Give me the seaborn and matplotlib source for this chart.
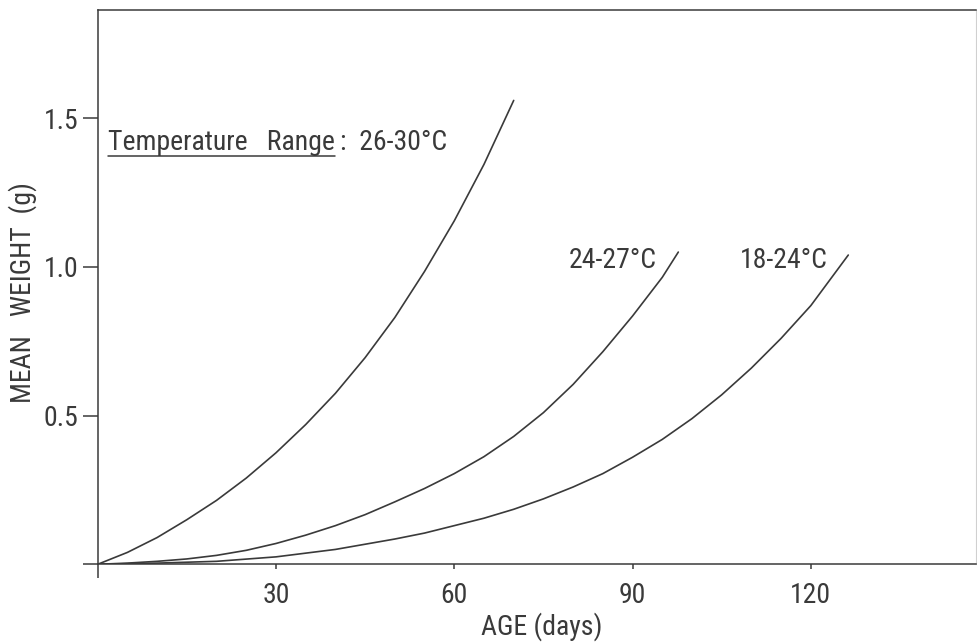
import numpy as np
import pandas as pd
import matplotlib
matplotlib.use("Agg")
import matplotlib.pyplot as plt
import seaborn as sns

# values (age in days, mean weight in g)
age_26_30 = [0, 5, 10, 15, 20, 25, 30, 35, 40, 45, 50, 55, 60, 65, 70]
wt_26_30 = [0, 0.04, 0.09, 0.15, 0.215, 0.29, 0.375, 0.47, 0.575, 0.695, 0.83, 0.985, 1.155, 1.345, 1.56]

age_24_27 = [0, 5, 10, 15, 20, 25, 30, 35, 40, 45, 50, 55, 60, 65, 70, 75, 80, 85, 90, 95, 97.7]
wt_24_27 = [0, 0.004, 0.01, 0.018, 0.03, 0.047, 0.07, 0.098, 0.13, 0.167, 0.21, 0.255, 0.305,
            0.362, 0.43, 0.51, 0.605, 0.715, 0.835, 0.965, 1.05]

age_18_24 = [0, 10, 20, 30, 40, 50, 55, 60, 65, 70, 75, 80, 85, 90, 95, 100, 105, 110, 115, 120, 126.3]
wt_18_24 = [0, 0.004, 0.01, 0.025, 0.05, 0.085, 0.105, 0.13, 0.155, 0.185, 0.22, 0.26, 0.305,
            0.36, 0.42, 0.49, 0.57, 0.66, 0.76, 0.87, 1.04]

ranges = ["26-30°C", "24-27°C", "18-24°C"]
x_ticks = [30, 60, 90, 120]
y_ticks = [0, 0.5, 1.0, 1.5]
y_ticklabels = ["", "0.5", "1.0", "1.5"]

df = pd.concat([
    pd.DataFrame({"age": age_26_30, "weight": wt_26_30, "range": ranges[0]}),
    pd.DataFrame({"age": age_24_27, "weight": wt_24_27, "range": ranges[1]}),
    pd.DataFrame({"age": age_18_24, "weight": wt_18_24, "range": ranges[2]}),
])

sns.set_style("white")
plt.rcParams["font.family"] = ["Roboto Condensed", "Roboto", "DejaVu Sans"]
ink = "#3a3a3a"
fs = 20

fig = plt.figure(figsize=(9.78, 6.43), dpi=100)
ax = fig.add_axes([0.0999, 0.1224, 0.8981, 0.862])

sns.lineplot(data=df, x="age", y="weight", hue="range", palette=[ink] * 3,
             linewidth=1.2, legend=False, ax=ax, sort=False)

ax.set_xlim(0, 147.8)
ax.set_ylim(0, 1.864)

ax.set_xticks(x_ticks)
ax.set_xticklabels([str(t) for t in x_ticks])
ax.set_xticks([0], minor=True)
ax.set_yticks(y_ticks)
ax.set_yticklabels(y_ticklabels)

ax.tick_params(axis="x", which="major", bottom=True, direction="out", length=3.6, width=1.1,
               color=ink, labelcolor=ink, labelsize=fs, pad=9)
ax.tick_params(axis="x", which="minor", bottom=True, direction="out", length=10, width=1.1, color=ink)
ax.tick_params(axis="y", left=True, direction="out", length=11, width=1.1, color=ink,
               labelcolor=ink, labelsize=fs, pad=3)

for side in ["left", "bottom", "top"]:
    ax.spines[side].set_color(ink)
    ax.spines[side].set_linewidth(1.1)
ax.spines["right"].set_color("#d0d0d0")
ax.spines["right"].set_linewidth(0.8)

ax.set_xlabel("AGE (days)", fontsize=fs, color=ink)
ax.set_ylabel("MEAN   WEIGHT  (g)", fontsize=fs, color=ink)
ax.xaxis.set_label_coords(0.505, -0.086)
ax.yaxis.set_label_coords(-0.069, 0.49)

# curve labels
ax.text(94.1, 0.997, ranges[1], ha="right", va="baseline", fontsize=fs, color=ink)
ax.text(122.9, 0.997, ranges[2], ha="right", va="baseline", fontsize=fs, color=ink)

# underlined heading
t = ax.text(1.7, 1.393, "Temperature   Range", ha="left", va="baseline", fontsize=fs, color=ink)
fig.canvas.draw()
bb = t.get_window_extent(fig.canvas.get_renderer())
inv = ax.transData.inverted()
(x0, _), (x1, _) = inv.transform([(bb.x0, bb.y0), (bb.x1, bb.y0)])
ax.plot([x0, x1], [1.373, 1.373], color=ink, lw=1.1)
tx, _ = inv.transform((bb.x1 + 5, bb.y0))
ax.text(tx, 1.393, ":  " + ranges[0], ha="left", va="baseline", fontsize=fs, color=ink)

fig.savefig("out.png", dpi=100)
